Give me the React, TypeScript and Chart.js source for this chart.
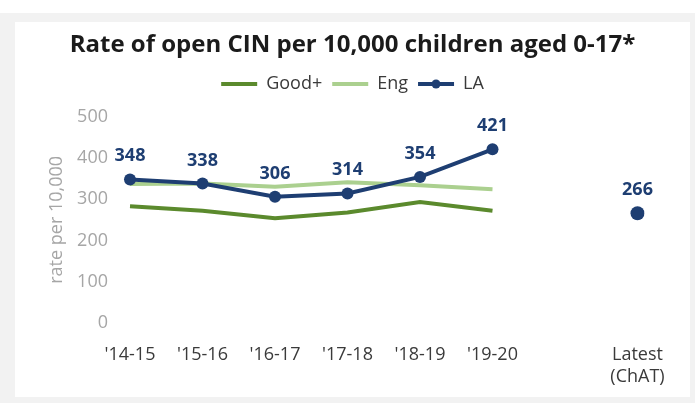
import React, { useEffect, useRef } from 'react';
import { Chart, registerables } from 'chart.js';

Chart.register(...registerables);

const categories: (string | string[])[] = ["'14-15", "'15-16", "'16-17", "'17-18", "'18-19", "'19-20", "", ["Latest", "(ChAT)"]];
const goodPlus: (number | null)[] = [283, 272, 254, 268, 293, 272, null, null];
const england: (number | null)[] = [337, 338, 330, 341, 334, 324, null, null];
const la: (number | null)[] = [348, 338, 306, 314, 354, 421, null, 266];
const yTicks = [0, 100, 200, 300, 400, 500];

const FONT = "'Open Sans', sans-serif";
const NAVY = '#1e3e72';
const GREEN = '#5b8a2d';
const LIGHT = '#abd08f';
const GREY = '#a6a6a6';
const DARK = '#3a3a3a';

const valueLabels = {
  id: 'valueLabels',
  afterDatasetsDraw(chart: any) {
    const meta = chart.getDatasetMeta(2);
    const ctx = chart.ctx;
    ctx.save();
    ctx.font = `bold 18px ${FONT}`;
    ctx.fillStyle = NAVY;
    ctx.textAlign = 'center';
    ctx.textBaseline = 'alphabetic';
    meta.data.forEach((pt: any, i: number) => {
      const v = la[i];
      if (v == null) return;
      ctx.fillText(String(v), pt.x, pt.y - 18);
    });
    ctx.restore();
  },
};

const legendMarker = {
  id: 'legendMarker',
  afterDraw(chart: any) {
    const lg = chart.legend;
    if (!lg || !lg.legendHitBoxes) return;
    const idx = lg.legendItems.findIndex((it: any) => it.datasetIndex === 2);
    const hb = lg.legendHitBoxes[idx];
    if (!hb) return;
    const ctx = chart.ctx;
    ctx.save();
    ctx.fillStyle = NAVY;
    ctx.beginPath();
    ctx.arc(hb.left + 18, hb.top + 9, 4.5, 0, Math.PI * 2);
    ctx.fill();
    ctx.restore();
  },
};

export default function App() {
  const ref = useRef<HTMLCanvasElement>(null);

  useEffect(() => {
    const chart = new Chart(ref.current as HTMLCanvasElement, {
      type: 'line',
      data: {
        labels: categories as any,
        datasets: [
          {
            label: 'Good+',
            data: goodPlus,
            borderColor: GREEN,
            backgroundColor: GREEN,
            borderWidth: 4,
            pointRadius: 0,
            pointHoverRadius: 0,
            tension: 0,
            order: 2,
          },
          {
            label: 'Eng',
            data: england,
            borderColor: LIGHT,
            backgroundColor: LIGHT,
            borderWidth: 4,
            pointRadius: 0,
            pointHoverRadius: 0,
            tension: 0,
            order: 1,
          },
          {
            label: 'LA',
            data: la,
            borderColor: NAVY,
            backgroundColor: NAVY,
            borderWidth: 4,
            pointRadius: (c: any) => (c.dataIndex === 7 ? 7 : 6),
            pointBackgroundColor: NAVY,
            pointBorderWidth: 0,
            tension: 0,
            spanGaps: false,
            order: 0,
          },
        ],
      },
      options: {
        responsive: false,
        animation: false,
        events: [],
        layout: { padding: 0 },
        plugins: {
          title: {
            display: true,
            text: 'Rate of open CIN per 10,000 children aged 0-17*',
            color: '#1b1b1b',
            font: { family: FONT, size: 24, weight: 'bold', lineHeight: 1.2 },
            padding: { top: 8.6, bottom: 5.6 },
          },
          subtitle: {
            display: true,
            text: ' ',
            weight: 500,
            position: 'top',
            padding: 0,
            font: { family: FONT, size: 1, lineHeight: '13.7px' },
          } as any,
          legend: {
            display: true,
            position: 'top',
            labels: {
              boxWidth: 36,
              boxHeight: 4,
              padding: 10,
              color: DARK,
              font: { family: FONT, size: 18 },
              sort: (a: any, b: any) => a.datasetIndex - b.datasetIndex,
              generateLabels: (c: any) =>
                (Chart.defaults.plugins.legend.labels.generateLabels as any)(c).map((l: any) => ({ ...l, lineWidth: 0 })),
            },
          },
          tooltip: { enabled: false },
        },
        scales: {
          x: {
            type: 'category',
            offset: false,
            grid: { display: false, drawTicks: false },
            border: { display: false },
            ticks: {
              color: DARK,
              font: { family: FONT, size: 18, lineHeight: 1.2 },
              padding: 21,
              maxRotation: 0,
              autoSkip: false,
            },
            afterFit: (s: any) => {
              s.height = 74;
            },
          },
          y: {
            min: 0,
            max: 500,
            grid: { display: false, drawTicks: false },
            border: { display: false },
            afterBuildTicks: (s: any) => {
              s.ticks = yTicks.map((v) => ({ value: v }));
            },
            ticks: {
              color: GREY,
              font: { family: FONT, size: 18 },
              padding: 22,
            },
            title: {
              display: true,
              text: 'rate per 10,000',
              color: GREY,
              font: { family: FONT, size: 18, lineHeight: 1.2 },
              padding: { top: 31.5, bottom: 0 },
            },
            afterFit: (s: any) => {
              s.width = 115;
            },
          },
          yRight: {
            type: 'linear',
            position: 'right',
            display: true,
            grid: { display: false, drawTicks: false },
            border: { display: false },
            ticks: { display: false },
            afterFit: (s: any) => {
              s.width = 52.5;
            },
          },
        },
      } as any,
      plugins: [valueLabels, legendMarker],
    });
    return () => chart.destroy();
  }, []);

  return (
    <div style={{ position: 'absolute', left: 0, top: 0, width: 695, height: 403, background: '#ffffff', overflow: 'hidden' }}>
      <div style={{ position: 'absolute', left: 0, top: 13, width: 695, height: 390, background: '#f2f2f2' }} />
      <div style={{ position: 'absolute', left: 15, top: 22, width: 675, height: 375, background: '#ffffff' }}>
        <canvas ref={ref} width={675} height={375} style={{ display: 'block', width: 675, height: 375 }} />
      </div>
    </div>
  );
}
